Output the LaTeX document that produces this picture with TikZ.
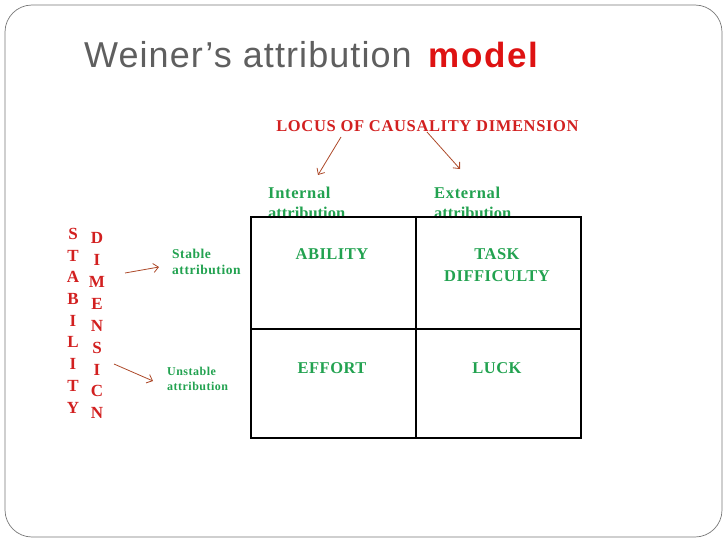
\documentclass[tikz,border=0pt]{standalone}
\usepackage{fontspec}
\setmainfont{Liberation Serif}
\newfontfamily\titlefont{Liberation Sans}
\usetikzlibrary{arrows.meta}
\definecolor{ttlgray}{RGB}{95,95,95}
\definecolor{ttlred}{RGB}{222,18,18}
\definecolor{lblred}{RGB}{210,32,32}
\definecolor{lblgreen}{RGB}{34,162,80}
\definecolor{arrbrown}{RGB}{172,72,40}
\definecolor{framegray}{RGB}{120,120,120}
\begin{document}
\begin{tikzpicture}[x=1pt,y=-1pt,
  greenlbl/.style={text=lblgreen, inner sep=0pt, font=\bfseries\fontsize{16.5}{20}\selectfont},
  redlbl/.style={text=lblred, inner sep=0pt, font=\bfseries\fontsize{17}{21.7}\selectfont},
  cell/.style={draw=black, line width=1.1pt, minimum width=165pt, inner sep=0pt},
  brownarrow/.style={draw=arrbrown, line width=0.8pt, -{Straight Barb[length=5pt,width=9pt]}}
]
\useasboundingbox (0,0) rectangle (728,546);
\draw[framegray, line width=0.7pt, rounded corners=27pt] (5,5) rectangle (722,537);

% title
\node[anchor=base west, inner sep=0pt, text=ttlgray] (title) at (84,67.7)
  {\titlefont\fontsize{36}{36}\selectfont\addfontfeature{LetterSpace=3}Weiner’s attribution};
\node[anchor=base west, inner sep=0pt, text=ttlred] (model) at (428,67.7)
  {\titlefont\bfseries\fontsize{35}{35}\selectfont\addfontfeature{LetterSpace=5}model};

% locus
\node[redlbl, anchor=center, font=\bfseries\fontsize{16.5}{20}\selectfont] (locus) at (427.5,126)
  {\addfontfeature{LetterSpace=4}LOCUS OF CAUSALITY DIMENSION};
\node[greenlbl, anchor=north west, align=left] (internal) at (268,186.5)
  {\addfontfeature{LetterSpace=4}Internal\\attribution};
\node[greenlbl, anchor=north west, align=left] (external) at (434,186.5)
  {\addfontfeature{LetterSpace=4}External\\attribution};
\coordinate (la1) at (341,137);
\coordinate (la2) at (318,175);
\coordinate (lb1) at (427,132);
\coordinate (lb2) at (460,169);
\draw[brownarrow] (la1) -- (la2);
\draw[brownarrow] (lb1) -- (lb2);

% grid
\node[cell, minimum height=112pt] (c11) at (333.5,273) {};
\node[cell, minimum height=112pt] (c12) at (498.5,273) {};
\node[cell, minimum height=109pt] (c21) at (333.5,383.5) {};
\node[cell, minimum height=109pt] (c22) at (498.5,383.5) {};
\node[greenlbl, anchor=center] (ability) at (332,254) {\addfontfeature{LetterSpace=3}ABILITY};
\node[greenlbl, anchor=north, align=center, font=\bfseries\fontsize{16.5}{22}\selectfont] (task) at (497,248.5)
  {\addfontfeature{LetterSpace=3}TASK\\\addfontfeature{LetterSpace=3}DIFFICULTY};
\node[greenlbl, anchor=center] (effort) at (332,368) {\addfontfeature{LetterSpace=3}EFFORT};
\node[greenlbl, anchor=center] (luck) at (497,368) {\addfontfeature{LetterSpace=3}LUCK};

% stability dimension
\node[redlbl, anchor=north, align=center] (stability) at (73,228)
  {S\\T\\A\\B\\I\\L\\I\\T\\Y};
\node[redlbl, anchor=north, align=center, font=\bfseries\fontsize{17}{21.9}\selectfont] (dimension) at (97,232.3)
  {D\\I\\M\\E\\N\\S\\I\\C\\N};
\node[greenlbl, anchor=north west, align=left, font=\bfseries\fontsize{13.5}{16}\selectfont] (stable) at (172,248.5)
  {\addfontfeature{LetterSpace=4}Stable\\\addfontfeature{LetterSpace=4}attribution};
\node[greenlbl, anchor=north west, align=left, font=\bfseries\fontsize{12}{15}\selectfont] (unstable) at (167,367)
  {\addfontfeature{LetterSpace=4}Unstable\\\addfontfeature{LetterSpace=4}attribution};
\coordinate (sa1) at (125,273);
\coordinate (sa2) at (159,267);
\coordinate (ua1) at (114,364);
\coordinate (ua2) at (153,381);
\draw[brownarrow] (sa1) -- (sa2);
\draw[brownarrow] (ua1) -- (ua2);
\end{tikzpicture}
\end{document}
